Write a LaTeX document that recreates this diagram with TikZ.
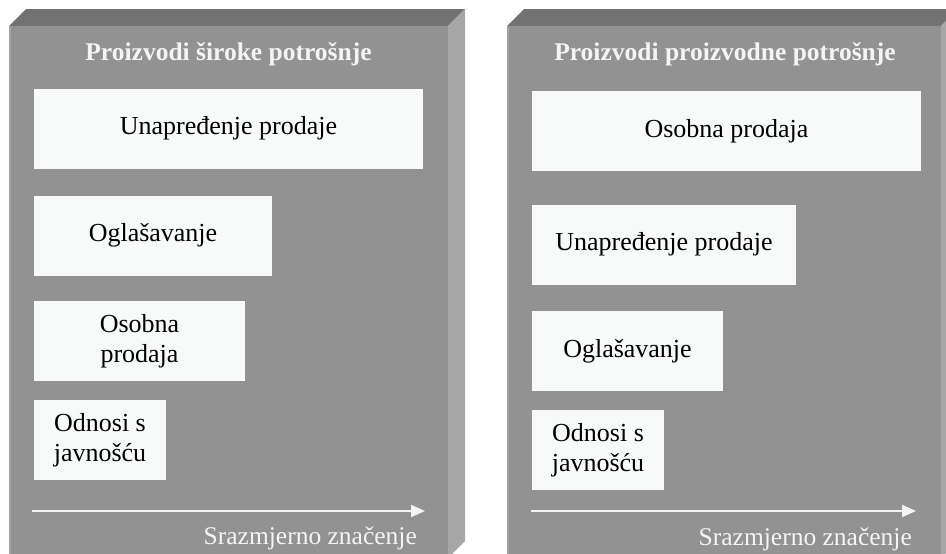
\documentclass[tikz,border=0pt]{standalone}
\usepackage{fontspec}
\setmainfont{Liberation Serif}
\usetikzlibrary{arrows.meta}
\definecolor{frontf}{HTML}{929292}
\definecolor{topf}{HTML}{727272}
\definecolor{sidef}{HTML}{A7A7A7}
\definecolor{boxf}{HTML}{F8F9F9}
\definecolor{lite}{HTML}{F4F4F4}
\definecolor{edgef}{HTML}{A2A2A2}
\begin{document}
\begin{tikzpicture}[x=1pt,y=-1pt,
  box/.style={fill=boxf, inner sep=0pt, align=center, text=black,
    font=\fontsize{26}{30}\selectfont, minimum height=80pt},
  ttl/.style={text=lite, font=\bfseries\fontsize{25.5}{30}\selectfont, anchor=base, inner sep=0pt},
  lbl/.style={text=lite, font=\fontsize{25.5}{30}\selectfont, anchor=base east, inner sep=0pt},
  axis/.style={draw=lite, line width=2pt, -{Triangle[length=14pt,width=12pt]}}]
\useasboundingbox (0,0) rectangle (946,554);
\clip (0,0) rectangle (946,554);
% left panel
\fill[topf] (9,26) -- (26,9) -- (465,9) -- (448,26) -- cycle;
\fill[sidef] (448,26) -- (465,9) -- (465,541) -- (448,558) -- cycle;
\fill[frontf] (9,26) rectangle (448,560);
\draw[edgef, line width=1.5pt] (9.75,26) -- (9.75,560);
% right panel
\fill[topf] (507,26) -- (524,9) -- (958,9) -- (941,26) -- cycle;
\fill[sidef] (941,26) -- (958,9) -- (958,541) -- (941,558) -- cycle;
\fill[frontf] (507,26) rectangle (941,560);
\draw[edgef, line width=1.5pt] (507.75,26) -- (507.75,560);
% titles
\node[ttl] (t1) at (228.5,60) {Proizvodi široke potrošnje};
\node[ttl] (t2) at (725,60) {Proizvodi proizvodne potrošnje};
% left boxes
\node[box, minimum width=389pt] (l1) at (228.5,128.5) {Unapređenje prodaje};
\node[box, minimum width=238pt] (l2) at (153,235.5) {Oglašavanje};
\node[box, minimum width=211pt] (l3) at (139.5,341) {Osobna\\prodaja};
\node[box, minimum width=132pt] (l4) at (100,440) {Odnosi s\\javnošću};
% right boxes
\node[box, minimum width=389pt] (r1) at (726.5,131) {Osobna prodaja};
\node[box, minimum width=264pt] (r2) at (664,244.5) {Unapređenje prodaje};
\node[box, minimum width=191pt] (r3) at (627.5,351) {Oglašavanje};
\node[box, minimum width=132pt] (r4) at (598,450) {Odnosi s\\javnošću};
% axes
\coordinate (la0) at (32,511);
\coordinate (la1) at (425,511);
\coordinate (ra0) at (531,511);
\coordinate (ra1) at (916,511);
\draw[axis] (la0) -- (la1);
\draw[axis] (ra0) -- (ra1);
\node[lbl] (s1) at (417,544) {Srazmjerno značenje};
\node[lbl] (s2) at (912,545) {Srazmjerno značenje};
\end{tikzpicture}
\end{document}
